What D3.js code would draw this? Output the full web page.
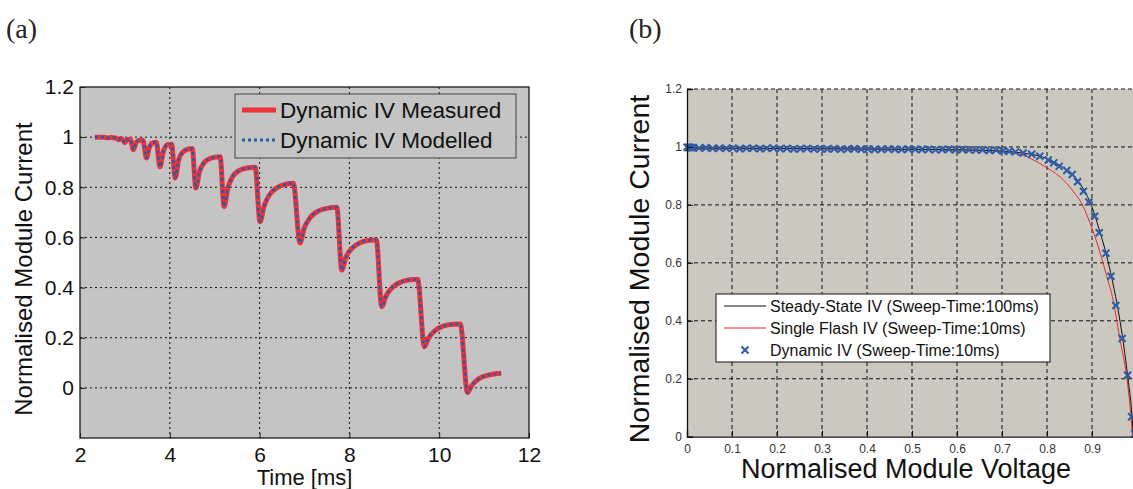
<!DOCTYPE html>
<meta charset="utf-8">
<script src="https://d3js.org/d3.v7.min.js"></script>
<style>
  body { margin: 0; background: #fff; }
</style>
<div id="chart"></div>
<script>

// ---- panel (a): dynamic IV, current vs time ----
var timeMs = [
  2.33, 2.50, 2.62, 2.70, 2.80, 2.86, 2.92, 3.00, 3.05, 3.12,
  3.19, 3.25, 3.33, 3.40, 3.48, 3.55, 3.63, 3.70, 3.78, 3.86,
  3.95, 4.04, 4.12, 4.20, 4.30, 4.42, 4.50, 4.58, 4.66, 4.76,
  4.90, 5.05, 5.12, 5.21, 5.29, 5.40, 5.55, 5.72, 5.90, 6.01,
  6.10, 6.22, 6.40, 6.58, 6.75, 6.90, 6.99, 7.12, 7.30, 7.50,
  7.72, 7.83, 7.92, 8.06, 8.25, 8.45, 8.60, 8.72, 8.81, 8.97,
  9.15, 9.35, 9.52, 9.67, 9.76, 9.92, 10.12, 10.32, 10.47, 10.63,
  10.72, 10.88, 11.10, 11.38
];
var ivMeasured = [
  1.000, 1.000, 0.997, 0.999, 0.996, 0.990, 0.996, 0.978, 0.990, 0.992,
  0.950, 0.978, 0.988, 0.988, 0.917, 0.962, 0.978, 0.980, 0.882, 0.945,
  0.970, 0.972, 0.837, 0.912, 0.942, 0.953, 0.955, 0.797, 0.862, 0.897,
  0.915, 0.921, 0.922, 0.723, 0.795, 0.843, 0.867, 0.877, 0.880, 0.663,
  0.725, 0.770, 0.800, 0.812, 0.816, 0.578, 0.635, 0.678, 0.705, 0.716,
  0.720, 0.470, 0.520, 0.557, 0.580, 0.589, 0.590, 0.324, 0.365, 0.403,
  0.422, 0.431, 0.433, 0.164, 0.198, 0.230, 0.248, 0.254, 0.255, -0.019,
  0.008, 0.036, 0.051, 0.058
];
var ivModelled = [
  1.000, 1.000, 0.997, 0.999, 0.996, 0.990, 0.996, 0.978, 0.990, 0.992,
  0.950, 0.978, 0.988, 0.988, 0.917, 0.962, 0.978, 0.980, 0.882, 0.945,
  0.970, 0.972, 0.837, 0.912, 0.942, 0.953, 0.955, 0.797, 0.862, 0.897,
  0.915, 0.921, 0.922, 0.723, 0.795, 0.843, 0.867, 0.877, 0.880, 0.663,
  0.725, 0.770, 0.800, 0.812, 0.816, 0.578, 0.635, 0.678, 0.705, 0.716,
  0.720, 0.470, 0.520, 0.557, 0.580, 0.589, 0.590, 0.324, 0.365, 0.403,
  0.422, 0.431, 0.433, 0.164, 0.198, 0.230, 0.248, 0.254, 0.255, -0.019,
  0.008, 0.036, 0.051, 0.058
];
var xTicksA = [2, 4, 6, 8, 10, 12];
var yTicksA = [0, 0.2, 0.4, 0.6, 0.8, 1, 1.2];
var legendA = ["Dynamic IV Measured", "Dynamic IV Modelled"];

// ---- panel (b): IV curves, current vs voltage ----
var ssVoltage = [0, 0.2, 0.4, 0.6, 0.7, 0.75, 0.78, 0.81, 0.84, 0.86,
  0.88, 0.9, 0.915, 0.93, 0.945, 0.96, 0.97, 0.98, 0.988, 0.992];
var ssCurrent = [0.996, 0.995, 0.993, 0.99, 0.986, 0.978, 0.97, 0.952, 0.925, 0.9,
  0.857, 0.793, 0.72, 0.64, 0.54, 0.42, 0.32, 0.2, 0.09, 0.0];

var sfVoltage = [0, 0.2, 0.4, 0.6, 0.68, 0.72, 0.747, 0.784, 0.81, 0.829,
  0.845, 0.859, 0.877, 0.896, 0.914, 0.933, 0.947, 0.961, 0.977, 0.986, 0.99];
var sfCurrent = [0.993, 0.994, 0.992, 0.99, 0.987, 0.98, 0.971, 0.943, 0.918, 0.897,
  0.872, 0.845, 0.805, 0.736, 0.655, 0.552, 0.471, 0.345, 0.207, 0.08, 0.0];

var dynVoltage = [
  0, 0.003, 0.006, 0.01, 0.014,
  0.027, 0.042, 0.057, 0.072, 0.087, 0.102, 0.117, 0.132, 0.147, 0.162,
  0.177, 0.192, 0.207, 0.222, 0.237, 0.252, 0.267, 0.282, 0.297, 0.312,
  0.327, 0.342, 0.357, 0.372, 0.387, 0.402, 0.417, 0.432, 0.447, 0.462,
  0.477, 0.492, 0.507, 0.522, 0.537, 0.552, 0.567, 0.582, 0.597, 0.612,
  0.627, 0.642, 0.657, 0.672, 0.687, 0.702,
  0.716, 0.73,
  0.747, 0.766, 0.784, 0.803, 0.815, 0.827, 0.844, 0.856, 0.868, 0.881,
  0.893, 0.906, 0.916, 0.931, 0.942, 0.953, 0.967, 0.979, 0.988, 0.995
];
var dynCurrent = [
  0.999, 0.998, 0.999, 0.997, 0.998,
  0.996, 0.997, 0.995, 0.996, 0.995, 0.996, 0.994, 0.995, 0.996, 0.994,
  0.995, 0.996, 0.994, 0.995, 0.993, 0.994, 0.995, 0.993, 0.994, 0.993,
  0.994, 0.992, 0.993, 0.994, 0.992, 0.993, 0.991, 0.992, 0.993, 0.992,
  0.991, 0.993, 0.992, 0.991, 0.992, 0.990, 0.991, 0.992, 0.990, 0.991,
  0.990, 0.989, 0.990, 0.988, 0.989, 0.987,
  0.985, 0.983,
  0.979, 0.975, 0.968, 0.955, 0.945, 0.933, 0.919, 0.905, 0.880, 0.847,
  0.810, 0.761, 0.704, 0.633, 0.554, 0.453, 0.339, 0.212, 0.069, 0.010
];
var xTicksB = [0, 0.1, 0.2, 0.3, 0.4, 0.5, 0.6, 0.7, 0.8, 0.9];
var yTicksB = [0, 0.2, 0.4, 0.6, 0.8, 1, 1.2];
var legendB = ["Steady-State IV (Sweep-Time:100ms)", "Single Flash IV (Sweep-Time:10ms)", "Dynamic IV (Sweep-Time:10ms)"];

var W = 1133, H = 489;
var fmt = d3.format("~g");
var sans = "'Liberation Sans', Arial, Helvetica, sans-serif";
var serif = "'Liberation Serif', 'Times New Roman', serif";

var svg = d3.select("#chart").append("svg")
    .attr("width", W)
    .attr("height", H)
    .style("display", "block");

// panel labels
svg.append("text").attr("x", 6).attr("y", 38).text("(a)")
    .style("font-family", serif).style("font-size", "28px").attr("fill", "#222");
svg.append("text").attr("x", 629).attr("y", 38).text("(b)")
    .style("font-family", serif).style("font-size", "28px").attr("fill", "#222");

// ================= panel (a) =================
var xA = d3.scaleLinear().domain([2, 12]).range([80, 529]);
var yA = d3.scaleLinear().domain([-0.2, 1.2]).range([438, 87]);
var gA = svg.append("g");

gA.append("rect")
    .attr("x", xA(2)).attr("y", yA(1.2))
    .attr("width", xA(12) - xA(2)).attr("height", yA(-0.2) - yA(1.2))
    .attr("fill", "#c3c4c3");

// dotted grid
gA.append("g").selectAll("line").data(xTicksA.slice(1, -1)).enter().append("line")
    .attr("x1", d => xA(d)).attr("x2", d => xA(d))
    .attr("y1", yA(1.2)).attr("y2", yA(-0.2))
    .attr("stroke", "#111").attr("stroke-width", 1).attr("stroke-dasharray", "2,3");
gA.append("g").selectAll("line").data(yTicksA.slice(0, -1)).enter().append("line")
    .attr("x1", xA(2)).attr("x2", xA(12))
    .attr("y1", d => yA(d)).attr("y2", d => yA(d))
    .attr("stroke", "#111").attr("stroke-width", 1).attr("stroke-dasharray", "2,3");

// curves
var lineA = d3.line()
    .x(function(d, i) { return xA(timeMs[i]); })
    .y(function(d) { return yA(d); })
    .curve(d3.curveMonotoneX);

gA.append("path").datum(ivMeasured)
    .attr("d", lineA)
    .attr("fill", "none").attr("stroke", "#ee3338").attr("stroke-width", 5)
    .attr("stroke-linejoin", "round");
gA.append("path").datum(ivModelled)
    .attr("d", lineA)
    .attr("fill", "none").attr("stroke", "#2b5aa8").attr("stroke-width", 2.6)
    .attr("stroke-dasharray", "3,3");

// frame
gA.append("rect")
    .attr("x", xA(2)).attr("y", yA(1.2))
    .attr("width", xA(12) - xA(2)).attr("height", yA(-0.2) - yA(1.2))
    .attr("fill", "none").attr("stroke", "#1a1a1a").attr("stroke-width", 1.3);

// axes (ticks inside)
var axA_x = gA.append("g").attr("transform", "translate(0," + yA(-0.2) + ")")
    .call(d3.axisBottom(xA).tickValues(xTicksA).tickFormat(fmt).tickSize(-5).tickPadding(9));
var axA_y = gA.append("g").attr("transform", "translate(" + xA(2) + ",0)")
    .call(d3.axisLeft(yA).tickValues(yTicksA).tickFormat(fmt).tickSize(-5).tickPadding(8));
[axA_x, axA_y].forEach(function(ax) {
  ax.select(".domain").remove();
  ax.selectAll("line").attr("stroke", "#1a1a1a");
  ax.selectAll("text").style("font-family", sans).style("font-size", "21px").attr("fill", "#111");
});
axA_y.selectAll("text").attr("x", -6);

gA.append("text")
    .attr("x", (xA(2) + xA(12)) / 2).attr("y", 485)
    .attr("text-anchor", "middle")
    .style("font-family", sans).style("font-size", "22px").attr("fill", "#111")
    .text("Time [ms]");
gA.append("text")
    .attr("transform", "translate(32," + 269 + ") rotate(-90)")
    .attr("text-anchor", "middle")
    .style("font-family", sans).style("font-size", "24px").attr("fill", "#111")
    .text("Normalised Module Current");

// legend (a)
var legA = gA.append("g");
legA.append("rect").attr("x", 235).attr("y", 94).attr("width", 281).attr("height", 64)
    .attr("fill", "#c3c4c3").attr("stroke", "#444").attr("stroke-width", 1);
legA.append("line").attr("x1", 242).attr("x2", 276).attr("y1", 110).attr("y2", 110)
    .attr("stroke", "#ee3338").attr("stroke-width", 5);
legA.append("line").attr("x1", 242).attr("x2", 276).attr("y1", 140).attr("y2", 140)
    .attr("stroke", "#2b5aa8").attr("stroke-width", 3).attr("stroke-dasharray", "3,3");
legA.selectAll("text").data(legendA).enter().append("text")
    .attr("x", 280).attr("y", function(d, i) { return 118 + i * 30; })
    .style("font-family", sans).style("font-size", "22.5px").attr("fill", "#111")
    .text(function(d) { return d; });

// ================= panel (b) =================
var xB = d3.scaleLinear().domain([0, 1]).range([687, 1137]);
var yB = d3.scaleLinear().domain([0, 1.2]).range([436.7, 89]);
var gB = svg.append("g");

gB.append("rect")
    .attr("x", xB(0)).attr("y", yB(1.2))
    .attr("width", xB(1) - xB(0)).attr("height", yB(0) - yB(1.2))
    .attr("fill", "#cbc8c0");

gB.append("g").selectAll("line").data(xTicksB.slice(1)).enter().append("line")
    .attr("x1", d => xB(d)).attr("x2", d => xB(d))
    .attr("y1", yB(1.2)).attr("y2", yB(0))
    .attr("stroke", "#111").attr("stroke-width", 1).attr("stroke-dasharray", "4,3");
gB.append("g").selectAll("line").data(yTicksB.slice(1)).enter().append("line")
    .attr("x1", xB(0)).attr("x2", xB(1))
    .attr("y1", d => yB(d)).attr("y2", d => yB(d))
    .attr("stroke", "#111").attr("stroke-width", 1).attr("stroke-dasharray", "4,3");

var lineSS = d3.line()
    .x(function(d, i) { return xB(ssVoltage[i]); })
    .y(function(d) { return yB(d); })
    .curve(d3.curveMonotoneX);
var lineSF = d3.line()
    .x(function(d, i) { return xB(sfVoltage[i]); })
    .y(function(d) { return yB(d); })
    .curve(d3.curveMonotoneX);

gB.append("path").datum(sfCurrent).attr("d", lineSF)
    .attr("fill", "none").attr("stroke", "#f0262b").attr("stroke-width", 1);
gB.append("path").datum(ssCurrent).attr("d", lineSS)
    .attr("fill", "none").attr("stroke", "#111").attr("stroke-width", 1);

var cross = "M-3.5,-3.5L3.5,3.5M-3.5,3.5L3.5,-3.5";
gB.append("g").selectAll("path").data(dynCurrent).enter().append("path")
    .attr("transform", function(d, i) { return "translate(" + xB(dynVoltage[i]) + "," + yB(d) + ")"; })
    .attr("d", cross)
    .attr("fill", "none").attr("stroke", "#2a5caa").attr("stroke-width", 2);

// left and bottom axis lines, ticks inside
var axB_x = gB.append("g").attr("transform", "translate(0," + yB(0) + ")")
    .call(d3.axisBottom(xB).tickValues(xTicksB).tickFormat(fmt).tickSize(-6).tickPadding(8));
var axB_y = gB.append("g").attr("transform", "translate(" + xB(0) + ",0)")
    .call(d3.axisLeft(yB).tickValues(yTicksB).tickFormat(fmt).tickSize(-6).tickPadding(6));
[axB_x, axB_y].forEach(function(ax) {
  ax.select(".domain").attr("stroke", "#111").attr("stroke-width", 1.3);
  ax.selectAll("line").attr("stroke", "#111");
  ax.selectAll("text").style("font-family", sans).style("font-size", "12px").attr("fill", "#333");
});
axB_y.selectAll("text").attr("x", -5);

gB.append("text")
    .attr("x", 906).attr("y", 478)
    .attr("text-anchor", "middle")
    .style("font-family", sans).style("font-size", "27px").attr("fill", "#111")
    .text("Normalised Module Voltage");
gB.append("text")
    .attr("transform", "translate(649," + 269 + ") rotate(-90)")
    .attr("text-anchor", "middle")
    .style("font-family", sans).style("font-size", "28.5px").attr("fill", "#111")
    .text("Normalised Module Current");

// legend (b)
var legB = gB.append("g");
legB.append("rect").attr("x", 716).attr("y", 294).attr("width", 334).attr("height", 68)
    .attr("fill", "#fff").attr("stroke", "#111").attr("stroke-width", 1);
legB.append("line").attr("x1", 724).attr("x2", 766).attr("y1", 306).attr("y2", 306)
    .attr("stroke", "#111").attr("stroke-width", 1);
legB.append("line").attr("x1", 724).attr("x2", 766).attr("y1", 328).attr("y2", 328)
    .attr("stroke", "#f0262b").attr("stroke-width", 1);
legB.append("path").attr("transform", "translate(745,350)").attr("d", cross)
    .attr("fill", "none").attr("stroke", "#2a5caa").attr("stroke-width", 2);
legB.selectAll("text").data(legendB).enter().append("text")
    .attr("x", 770).attr("y", function(d, i) { return 312 + i * 22; })
    .style("font-family", sans).style("font-size", "16px").attr("fill", "#111")
    .text(function(d) { return d; });

</script>
